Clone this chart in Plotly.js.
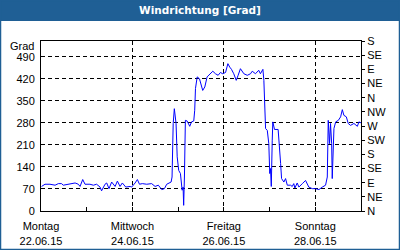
<!DOCTYPE html>
<html><head><meta charset="utf-8">
<script src="https://cdn.plot.ly/plotly-3.0.1.min.js"></script>
<style>html,body{margin:0;padding:0;background:#fff}#c{width:400px;height:250px}</style>
</head><body><div id="c"></div>
<script>
// hours since 22.06.2015 00:00
const hours = [0.3,2.1,4.7,7.4,9.1,10.8,11.7,14.3,16.1,17.9,19.6,20.5,21.9,23.1,25.7,27.5,29.2,31.0,31.8,33.6,34.5,35.7,37.1,38.9,40.1,41.5,42.7,44.5,46.8,47.6,49.4,50.6,51.7,53.2,55.5,58.1,59.9,61.6,63.4,64.8,66.0,67.8,68.3,68.8,69.4,70.0,70.6,70.9,71.5,72.3,73.2,73.7,74.1,74.6,74.9,75.3,75.8,76.7,78.1,79.0,80.2,80.7,81.1,82.0,83.2,84.9,86.0,87.2,89.0,90.2,91.6,93.0,94.2,95.4,96.9,98.1,99.1,100.0,101.2,102.5,103.5,104.7,106.5,108.3,110.0,110.9,112.6,114.3,115.2,116.5,117.0,117.5,117.9,118.8,119.6,120.1,120.5,120.9,121.0,121.4,121.7,122.6,124.5,125.2,125.8,126.3,127.5,128.4,129.3,131.0,131.9,132.7,133.3,134.5,135.4,137.2,138.9,140.6,142.4,144.1,145.9,147.7,149.4,150.3,150.8,151.5,152.0,152.6,152.9,153.8,154.7,156.1,157.3,158.2,159.0,160.3,161.3,162.5,164.3,166.1,166.9,168.0];
const degrees = [78,85,85,82,87,87,82,85,89,89,85,78,100,85,85,82,85,76,64,85,89,71,92,78,95,78,89,76,78,76,89,100,85,87,85,87,78,82,68,71,85,89,92,108,278,325,288,278,172,129,119,87,66,76,18,108,288,286,269,283,286,320,389,426,420,383,394,426,436,444,436,431,440,436,440,468,457,450,436,415,431,452,436,431,436,444,436,447,436,450,415,336,262,256,214,119,135,78,177,225,283,259,259,214,151,103,92,103,82,82,78,87,73,89,76,87,97,76,71,71,68,76,82,108,288,214,278,214,103,262,283,288,299,322,304,299,278,272,278,269,283,280];
const dayTickVals = ['2015-06-22','2015-06-24','2015-06-26','2015-06-28'];
const dayTickText = ['Montag<br>22.06.15','Mittwoch<br>24.06.15','Freitag<br>26.06.15','Sonntag<br>28.06.15'];
const gradTicks = [0,70,140,210,280,350,420,490];
const compassVals = [0,45,90,135,180,225,270,315,360,405,450,495,540];
const compassText = ['N','NE','E','SE','S','SW','W','NW','N','NE','E','SE','S'];

const base = Date.UTC(2015,5,22,0,0,0);
const pad = n => String(n).padStart(2,'0');
const xs = hours.map(h => {
  const d = new Date(base + h*3600000);
  return d.getUTCFullYear()+'-'+pad(d.getUTCMonth()+1)+'-'+pad(d.getUTCDate())+' '+pad(d.getUTCHours())+':'+pad(d.getUTCMinutes());
});
const font = {family:'"Liberation Sans", Arial, sans-serif', size:11, color:'#000'};
const trace = {x: xs, y: degrees, type:'scatter', mode:'lines', line:{color:'#0000ff', width:1}, hoverinfo:'skip'};
const ghost = {x:[xs[0]], y:[0], yaxis:'y2', type:'scatter', mode:'none', hoverinfo:'skip', showlegend:false};
const layout = {
  width:400, height:250,
  margin:{l:41, r:39, t:41, b:39},
  paper_bgcolor:'#fff', plot_bgcolor:'#fff',
  showlegend:false,
  font: font,
  title:{text:'<b>Windrichtung [Grad]</b>', font:{family:'"DejaVu Sans", Verdana, sans-serif', size:10.5, color:'#fff'}, x:0.5, xanchor:'center', y:0.96, yref:'container', yanchor:'middle'},
  xaxis:{
    type:'date', range:['2015-06-22','2015-06-29'],
    tickmode:'array', tickvals: dayTickVals, ticktext: dayTickText,
    ticks:'inside', ticklen:4, tickcolor:'#000', ticklabelstandoff:5,
    minor:{dtick:86400000, tick0:'2015-06-22', ticks:'inside', ticklen:4, tickcolor:'#000', showgrid:false},
    showgrid:true, gridcolor:'#000', griddash:'4px,3px', gridwidth:1,
    showline:true, linecolor:'#000', linewidth:1, mirror:true,
    zeroline:false, tickfont: font, fixedrange:true
  },
  yaxis:{
    range:[0,540], tickmode:'array', tickvals: gradTicks, ticktext: gradTicks.map(String),
    ticks:'', showgrid:true, gridcolor:'#000', griddash:'4px,3px', gridwidth:1,
    showline:true, linecolor:'#000', linewidth:1, mirror:true,
    zeroline:false, tickfont: font, ticklabelstandoff:3
  },
  yaxis2:{
    range:[0,540], overlaying:'y', side:'right', tickmode:'array', tickvals: compassVals, ticktext: compassText,
    ticks:'outside', ticklen:3, tickcolor:'#000', showgrid:false, showline:false, zeroline:false, tickfont: font
  },
  shapes:[
    {type:'rect', xref:'paper', yref:'paper', x0:-41/320, x1:1+39/320, y0:1+41/170-21/170, y1:1+41/170, fillcolor:'#1f5f95', line:{width:0}, layer:'below'},
    {type:'rect', xref:'paper', yref:'paper', x0:-40.5/320, x1:1+38.5/320, y0:-38.5/170, y1:1+40.5/170, fillcolor:'rgba(0,0,0,0)', line:{color:'#1f5f95', width:1.5}, layer:'above'}
  ],
  annotations:[
    {text:'Grad', xref:'paper', yref:'paper', x:-5/320, y:1+-5/170, xanchor:'right', yanchor:'middle', showarrow:false, font: font}
  ]
};
Plotly.newPlot('c', [trace, ghost], layout, {staticPlot:true, displayModeBar:false});
</script></body></html>
